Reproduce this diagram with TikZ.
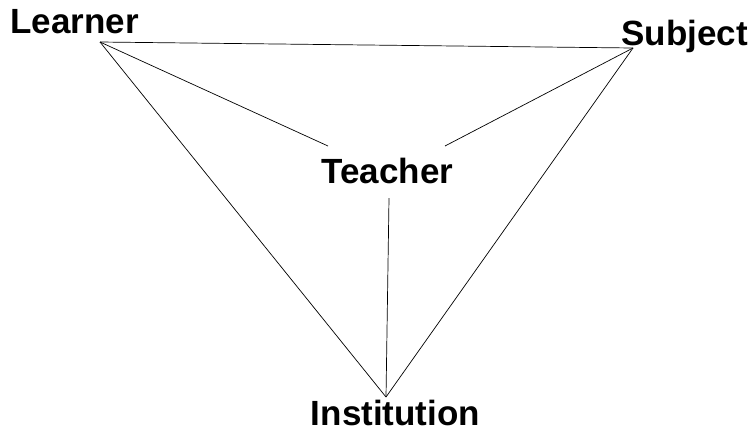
\documentclass[tikz,border=0pt]{standalone}
\usepackage{fontspec}
\setmainfont{Liberation Sans}
\usetikzlibrary{positioning}

\tikzset{
  corner/.style={font=\fontsize{35}{40}\selectfont\bfseries, inner sep=0pt, anchor=base},
  edge/.style={line width=0.7pt}
}

\begin{document}
\begin{tikzpicture}[x=1pt,y=-1pt]

\useasboundingbox (0,0) rectangle (751,432);

% Labels
\node[corner] (learner) at (74.5,33) {Learner};
\node[corner] (subject) at (684.5,45) {Subject};
\node[corner] (teacher) at (387.5,183) {Teacher};
\node[corner] (institution) at (395.5,425) {Institution};

% Vertices and line ends
\coordinate (learnerpt) at (100,42);
\coordinate (subjectpt) at (633,48);
\coordinate (instpt) at (386,397);
\coordinate (teacherleft) at (328,146);
\coordinate (teacherright) at (445,146);
\coordinate (teacherbottom) at (389,198);

% --- Outer triangle ---
\draw[edge] (learnerpt) -- (subjectpt);
\draw[edge] (learnerpt) -- (instpt);
\draw[edge] (subjectpt) -- (instpt);

% --- Spokes to the teacher ---
\draw[edge] (learnerpt) -- (teacherleft);
\draw[edge] (subjectpt) -- (teacherright);
\draw[edge] (teacherbottom) -- (instpt);

\end{tikzpicture}
\end{document}
